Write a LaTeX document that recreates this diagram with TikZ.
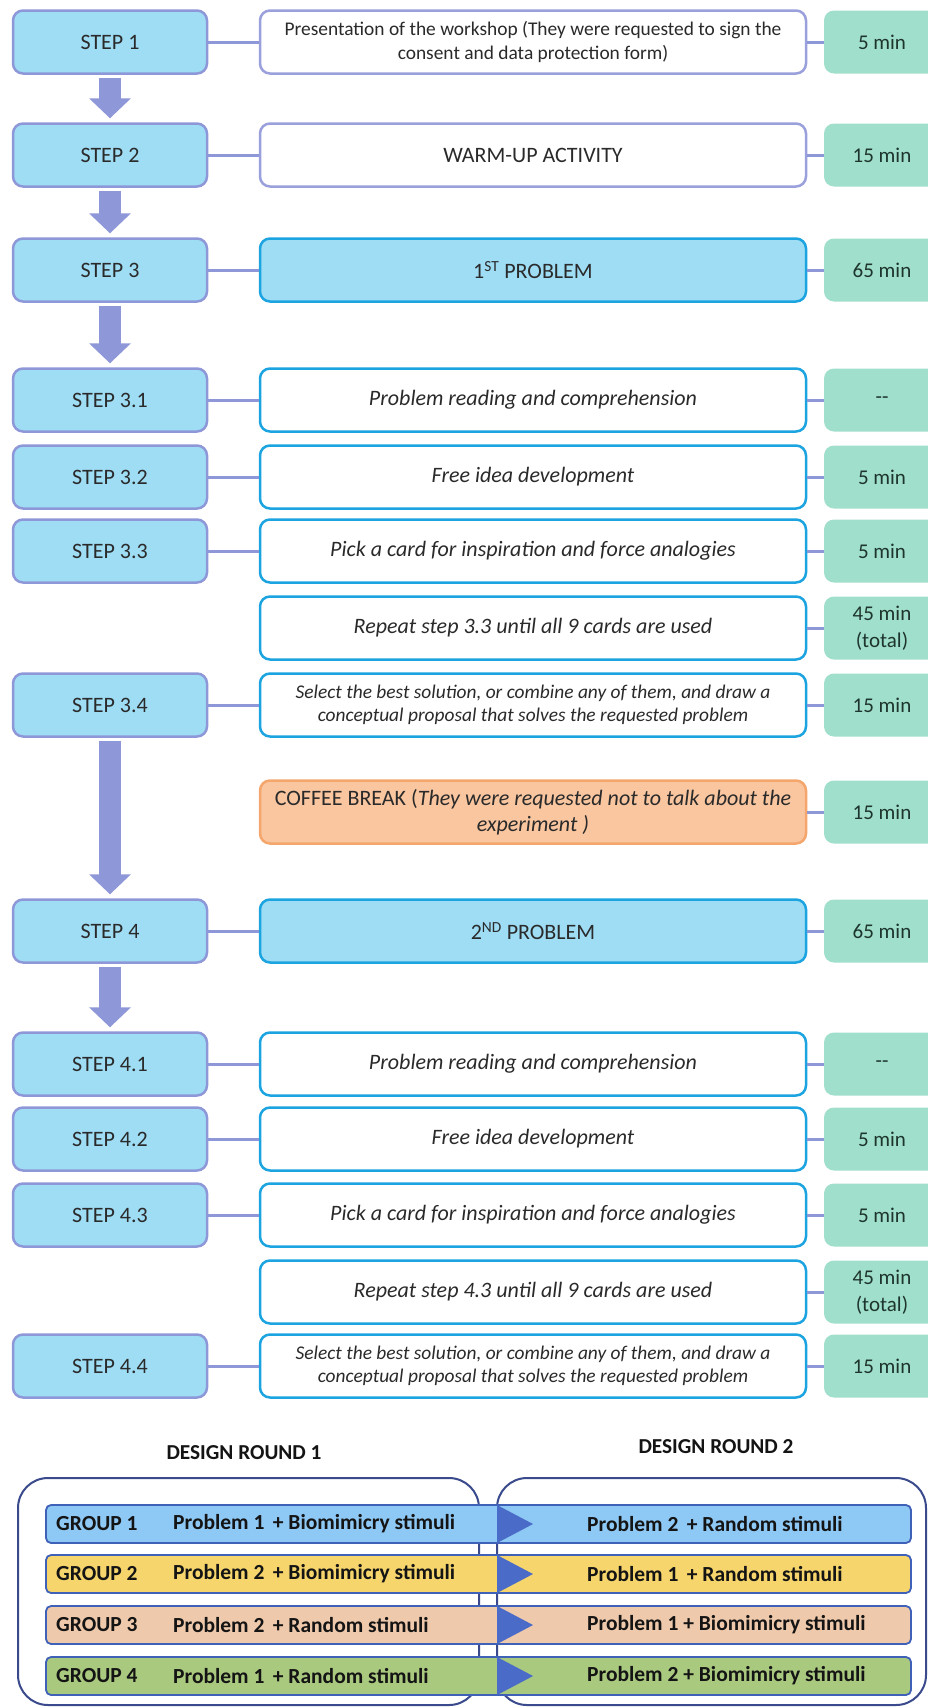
\documentclass[tikz,border=0pt]{standalone}
\usepackage{fontspec}
\setmainfont{Carlito}
\usetikzlibrary{calc}
\definecolor{stepfill}{HTML}{9FDDF5}
\definecolor{lav}{HTML}{8E98D8}
\definecolor{lavb}{HTML}{9AA0DC}
\definecolor{bblue}{HTML}{1BA4E0}
\definecolor{mint}{HTML}{A0DFCB}
\definecolor{cofill}{HTML}{F9C6A0}
\definecolor{coline}{HTML}{F4A66C}
\definecolor{txt}{HTML}{2A2A2A}
\definecolor{ttxt}{HTML}{1E352D}
\definecolor{navy}{HTML}{3A4A8C}
\definecolor{barline}{HTML}{3F62B8}
\definecolor{trib}{HTML}{4A6BC8}
\definecolor{g1}{HTML}{8EC8F4}
\definecolor{g2}{HTML}{F5D56C}
\definecolor{g3}{HTML}{EFC9AB}
\definecolor{g4}{HTML}{A9C97F}
\newcommand{\mainfs}{\fontsize{22}{26}\selectfont}
\newcommand{\smallfs}{\fontsize{19.4}{23.5}\selectfont}
\newcommand{\barrow}[2]{%
  \draw[lav, line width=22pt] ($(#1.south)+(0,3)$) -- ($(#2.north)+(0,-23)$);
  \fill[lav] ($(#2.north)+(0,-4)$) -- ($(#2.north)+(-21,-24)$) -- ($(#2.north)+(21,-24)$) -- cycle;}
\begin{document}
\begin{tikzpicture}[x=1pt,y=-1pt,
  stepbox/.style={draw=lav, fill=stepfill, line width=2.5pt, rounded corners=10pt,
    minimum width=194pt, minimum height=63pt, inner sep=0pt, font=\mainfs, text=txt},
  descbox/.style={draw=bblue, fill=white, line width=2.5pt, rounded corners=10pt,
    minimum width=546pt, minimum height=63pt, inner sep=0pt, align=center, font=\mainfs, text=txt},
  probbox/.style={descbox, fill=stepfill},
  lavbox/.style={descbox, draw=lavb},
  cofbox/.style={descbox, draw=coline, fill=cofill, font=\fontsize{22}{26.5}\selectfont},
  timebox/.style={fill=mint, rounded corners=10pt, minimum width=116pt, minimum height=63pt,
    inner sep=0pt, align=center, font=\fontsize{21}{27}\selectfont, text=ttxt},
  conn/.style={draw=lav, line width=3pt},
  bigbox/.style={draw=navy, line width=2pt, rounded corners=30pt, inner sep=0pt},
  grpbar/.style={draw=barline, line width=1.8pt, rounded corners=5pt, minimum width=865pt,
    minimum height=38pt, inner sep=0pt},
  grptxt/.style={anchor=west, font=\bfseries\fontsize{21.5}{25}\selectfont, text=black!92, inner sep=0pt},
  roundlbl/.style={font=\bfseries\fontsize{21.3}{25}\selectfont, text=black!92}
]
\useasboundingbox (0,0) rectangle (928,1708);
\fill[white] (0,0) rectangle (928,1708);

% ---- rows
\node[stepbox] (s1) at (110,42) {STEP 1};
\node[lavbox, font=\smallfs] (d1) at (533,42) {Presentation of the workshop (They were requested to sign the\\consent and data protection form)};
\node[timebox] (t1) at (882,42) {5 min};

\node[stepbox] (s2) at (110,155) {STEP 2};
\node[lavbox] (d2) at (533,155) {WARM-UP ACTIVITY};
\node[timebox] (t2) at (882,155) {15 min};

\node[stepbox] (s3) at (110,270) {STEP 3};
\node[probbox] (d3) at (533,270) {1\textsuperscript{ST} PROBLEM};
\node[timebox] (t3) at (882,270) {65 min};

\node[stepbox] (s31) at (110,400) {STEP 3.1};
\node[descbox] (d31) at (533,400) {\textit{Problem reading and comprehension}};
\node[timebox] (t31) at (882,400) {{-}{-}};

\node[stepbox] (s32) at (110,477) {STEP 3.2};
\node[descbox] (d32) at (533,477) {\textit{Free idea development}};
\node[timebox] (t32) at (882,477) {5 min};

\node[stepbox] (s33) at (110,551) {STEP 3.3};
\node[descbox] (d33) at (533,551) {\textit{Pick a card for inspiration and force analogies}};
\node[timebox] (t33) at (882,551) {5 min};

\node[descbox] (r1) at (533,628) {\textit{Repeat step 3.3 until all 9 cards are used}};
\node[timebox] (tr1) at (882,628) {45 min\\(total)};

\node[stepbox] (s34) at (110,705) {STEP 3.4};
\node[descbox, font=\smallfs] (d34) at (533,705) {\textit{Select the best solution, or combine any of them, and draw a}\\\textit{conceptual proposal that solves the requested problem}};
\node[timebox] (t34) at (882,705) {15 min};

\node[cofbox] (cb) at (533,812) {COFFEE BREAK (\textit{They were requested not to talk about the}\\\textit{experiment )}};
\node[timebox] (tcb) at (882,812) {15 min};

\node[stepbox] (s4) at (110,931) {STEP 4};
\node[probbox] (d4) at (533,931) {2\textsuperscript{ND} PROBLEM};
\node[timebox] (t4) at (882,931) {65 min};

\node[stepbox] (s41) at (110,1064) {STEP 4.1};
\node[descbox] (d41) at (533,1064) {\textit{Problem reading and comprehension}};
\node[timebox] (t41) at (882,1064) {{-}{-}};

\node[stepbox] (s42) at (110,1139) {STEP 4.2};
\node[descbox] (d42) at (533,1139) {\textit{Free idea development}};
\node[timebox] (t42) at (882,1139) {5 min};

\node[stepbox] (s43) at (110,1215) {STEP 4.3};
\node[descbox] (d43) at (533,1215) {\textit{Pick a card for inspiration and force analogies}};
\node[timebox] (t43) at (882,1215) {5 min};

\node[descbox] (r2) at (533,1292) {\textit{Repeat step 4.3 until all 9 cards are used}};
\node[timebox] (tr2) at (882,1292) {45 min\\(total)};

\node[stepbox] (s44) at (110,1366) {STEP 4.4};
\node[descbox, font=\smallfs] (d44) at (533,1366) {\textit{Select the best solution, or combine any of them, and draw a}\\\textit{conceptual proposal that solves the requested problem}};
\node[timebox] (t44) at (882,1366) {15 min};

% ---- connectors
\foreach \a/\b/\c in {s1/d1/t1, s2/d2/t2, s3/d3/t3, s31/d31/t31, s32/d32/t32, s33/d33/t33,
  s34/d34/t34, s4/d4/t4, s41/d41/t41, s42/d42/t42, s43/d43/t43, s44/d44/t44}{
  \draw[conn] (\a.east) -- (\b.west);
  \draw[conn] (\b.east) -- (\c.west);
}
\draw[conn] (r1.east) -- (tr1.west);
\draw[conn] (cb.east) -- (tcb.west);
\draw[conn] (r2.east) -- (tr2.west);

% ---- block arrows
\barrow{s1}{s2}
\barrow{s2}{s3}
\barrow{s3}{s31}
\barrow{s34}{s4}
\barrow{s4}{s41}

% ---- design rounds
\node[roundlbl] (lr1) at (244,1453) {DESIGN ROUND 1};
\node[roundlbl] (lr2) at (716,1447) {DESIGN ROUND 2};
\node[bigbox, minimum width=461pt, minimum height=227pt] (dr1) at (248.5,1591.5) {};
\node[bigbox, minimum width=429pt, minimum height=227pt] (dr2) at (711.5,1591.5) {};

\foreach \n/\y/\col/\g/\l/\r in {
  1/1524/g1/GROUP 1/Problem 1\, + Biomimicry stimuli/Problem 2\, + Random stimuli,
  2/1574/g2/GROUP 2/Problem 2\, + Biomimicry stimuli/Problem 1\, + Random stimuli,
  3/1625/g3/GROUP 3/Problem 2\, + Random stimuli/Problem 1 + Biomimicry stimuli,
  4/1676/g4/GROUP 4/Problem 1\, + Random stimuli/Problem 2 + Biomimicry stimuli}{
  \node[grpbar, fill=\col] (bar\n) at (478.5,\y) {};
  \fill[trib] (497,\y-19) -- (533,\y) -- (497,\y+19) -- cycle;
  \node[grptxt] (gl\n) at (56,\y) {\g};
  \node[grptxt] (gp\n) at (173,\y) {\l};
  \node[grptxt] (gr\n) at (587,\y) {\r};
}
\end{tikzpicture}
\end{document}
